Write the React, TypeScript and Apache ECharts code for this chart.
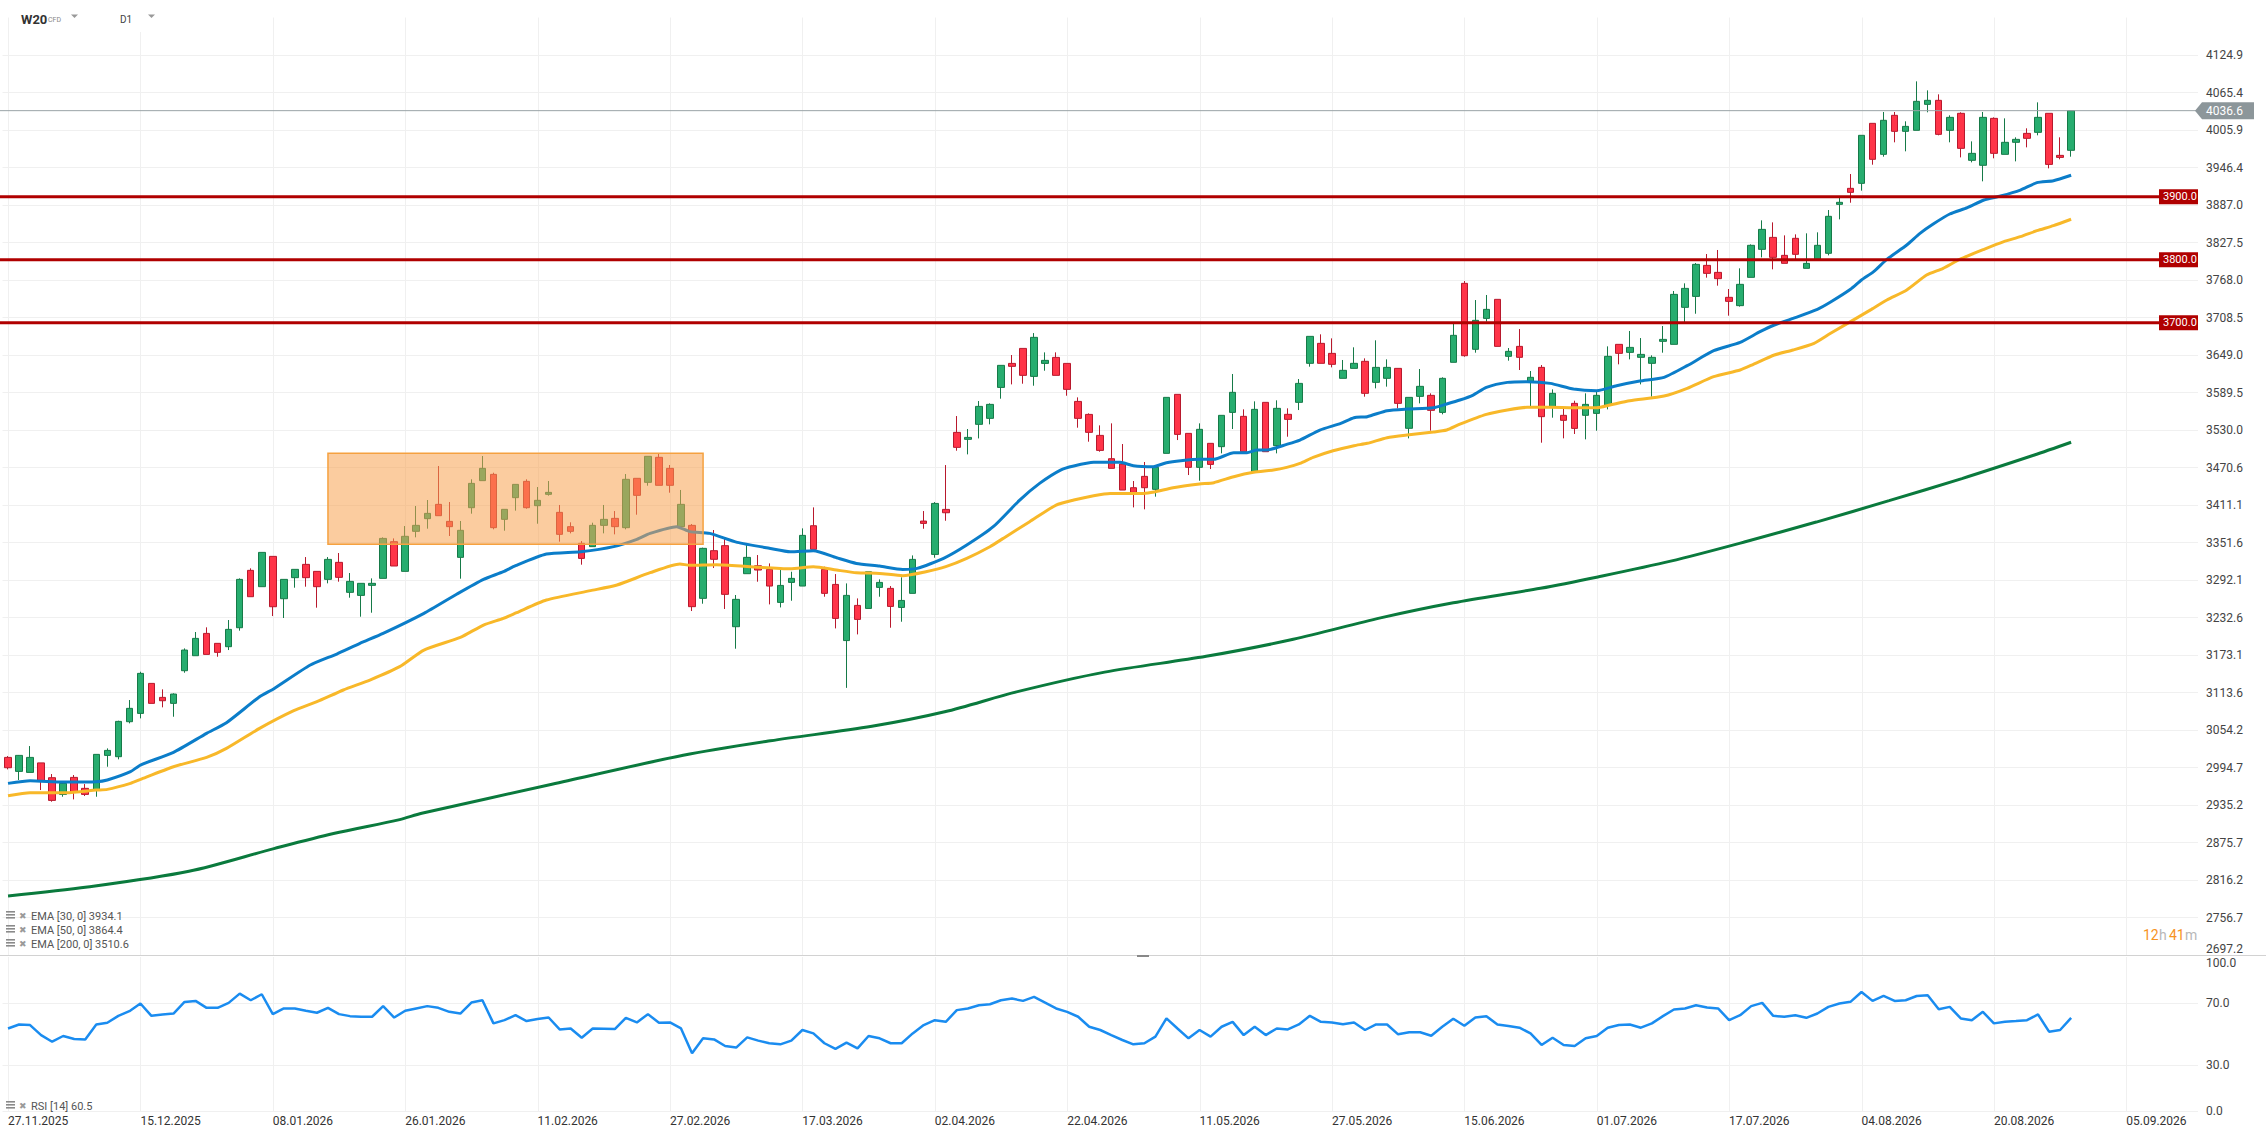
import React, { useEffect, useRef } from "react";
import * as echarts from "echarts";

// ---------- layout ----------
const PAGE_W = 2266;
const PAGE_H = 1139;
const PLOT_LEFT = 2.5;
const PLOT_RIGHT = 2198;
const MAIN_TOP = 17.5;
const MAIN_BOTTOM = 955;
const RSI_TOP = 957;
const RSI_BOTTOM = 1111;
const FONT = 'Roboto, "Noto Sans", "DejaVu Sans", sans-serif';

// ---------- axes ----------
const BASE = 2697.24; // lowest price tick
const STEP = 59.486; // price tick step
const STEPS = 25;
const SLOT_COUNT = 199; // candle slots on the time axis
const TICK_EVERY = 12;
const SLOTS = Array.from({ length: SLOT_COUNT }, (_, i) => String(i));
const DATE_TICKS = [
  "27.11.2025", "15.12.2025", "08.01.2026", "26.01.2026", "11.02.2026", "27.02.2026",
  "17.03.2026", "02.04.2026", "22.04.2026", "11.05.2026", "27.05.2026", "15.06.2026",
  "01.07.2026", "17.07.2026", "04.08.2026", "20.08.2026", "05.09.2026",
];
const RSI_TICKS = [0, 30, 70, 100];
const RSI_GRID = [70, 30, 0];

// ---------- candles ----------
const OPEN = [3010.7,2988.5,2986.9,3002.0,2978.5,2952.0,2979.0,2961.6,2958.9,3013.9,
3011.8,3067.3,3080.5,3128.1,3105.9,3096.4,3148.2,3172.0,3207.4,3191.6,
3186.3,3216.4,3307.4,3281.5,3329.6,3262.4,3295.8,3316.9,3305.8,3293.1,
3320.1,3272.5,3267.7,3283.6,3294.7,3352.9,3305.8,3369.3,3389.4,3412.1,
3385.1,3328.0,3406.8,3449.7,3459.7,3388.3,3422.7,3448.6,3410.0,3428.0,
3399.4,3376.7,3350.2,3345.0,3378.8,3389.9,3375.1,3453.4,3447.0,3486.7,
3469.2,3376.7,3378.8,3263.0,3338.6,3346.6,3218.0,3302.1,3314.7,3308.9,
3256.6,3288.3,3282.5,3378.2,3308.9,3285.1,3196.0,3251.8,3247.0,3280.4,
3278.8,3248.6,3270.9,3385.6,3332.7,3404.1,3526.3,3515.2,3539.0,3548.5,
3597.6,3635.7,3659.5,3615.1,3635.7,3645.2,3635.7,3575.4,3554.8,3521.5,
3484.5,3476.1,3438.5,3456.5,3435.9,3493.0,3586.6,3524.7,3470.8,3508.9,
3503.6,3558.0,3551.7,3463.9,3573.9,3505.2,3554.9,3573.9,3635.8,3667.5,
3651.6,3612.0,3627.8,3639.0,3605.6,3612.0,3627.8,3532.7,3583.4,3585.0,
3558.0,3637.4,3762.7,3658.0,3707.1,3737.3,3646.9,3662.7,3607.2,3629.4,
3567.0,3553.3,3572.3,3553.3,3556.4,3569.1,3665.9,3653.2,3645.3,3635.8,
3670.7,3665.9,3724.6,3742.0,3791.2,3780.1,3740.5,3727.3,3772.2,3816.6,
3835.6,3807.1,3834.1,3786.5,3800.7,3810.3,3888.0,3913.4,3921.3,4016.5,
3967.3,4029.2,4003.8,4005.4,4046.6,4053.0,4005.4,4032.4,3957.8,3949.9,
4024.4,3967.3,3986.4,4000.6,4002.2,4032.4,3965.7,3973.7];

const CLOSE = [2994.3,3013.9,3010.7,2973.2,2942.5,2969.5,2956.2,2952.0,3015.5,3021.8,
3067.8,3088.5,3144.0,3096.4,3100.6,3111.2,3181.0,3199.5,3174.1,3177.3,
3213.8,3293.1,3265.6,3335.9,3249.7,3293.1,3309.0,3295.8,3281.5,3324.8,
3296.3,3289.9,3286.8,3286.8,3358.1,3314.3,3361.4,3378.8,3397.8,3394.1,
3376.7,3370.9,3445.4,3469.2,3375.1,3404.2,3443.8,3406.8,3418.5,3431.1,
3364.5,3369.3,3326.4,3378.8,3388.3,3376.7,3451.8,3426.4,3488.3,3442.3,
3442.3,3412.1,3249.8,3342.3,3324.9,3269.3,3261.4,3328.0,3307.9,3282.5,
3283.5,3294.7,3362.9,3340.7,3270.9,3231.2,3267.7,3229.6,3305.2,3288.3,
3250.2,3259.7,3324.8,3381.9,3413.6,3398.8,3502.5,3518.3,3567.5,3570.7,
3632.6,3631.0,3616.7,3677.0,3640.5,3616.7,3594.5,3548.5,3526.3,3497.7,
3469.2,3434.8,3431.1,3438.5,3470.8,3581.8,3523.1,3470.8,3531.1,3475.5,
3553.3,3589.8,3495.6,3562.8,3495.6,3564.4,3546.9,3604.0,3678.6,3635.8,
3634.2,3624.7,3635.8,3588.2,3629.4,3629.4,3572.3,3581.8,3599.3,3561.2,
3612.0,3680.2,3647.9,3704.0,3721.4,3662.7,3654.8,3645.3,3613.6,3551.2,
3588.2,3545.4,3532.6,3570.7,3585.0,3646.9,3651.6,3661.1,3650.0,3645.3,
3673.8,3745.2,3754.7,3792.8,3778.5,3770.1,3734.1,3761.1,3823.0,3848.3,
3803.9,3794.4,3808.7,3794.4,3823.0,3869.0,3891.2,3907.0,3997.5,3959.4,
4021.3,4003.8,4011.7,4051.4,4053.0,3999.0,4026.0,3976.8,3968.9,4026.0,
3968.9,3986.4,3991.1,3992.7,4026.0,3951.4,3962.5,4036.6];

const LOW = [2991.7,2974.8,2986.9,2958.9,2940.4,2948.3,2944.1,2949.4,2948.3,2995.9,
3007.6,3064.7,3072.6,3096.4,3090.1,3075.2,3145.0,3172.0,3174.1,3170.4,
3181.0,3211.7,3265.6,3281.5,3234.9,3231.8,3279.9,3281.5,3248.2,3286.8,
3289.4,3264.0,3233.9,3240.2,3294.7,3314.3,3305.8,3359.8,3373.5,3394.1,
3361.9,3294.2,3397.3,3449.7,3372.5,3370.3,3402.1,3405.2,3381.4,3425.9,
3352.9,3366.1,3316.4,3345.0,3366.1,3364.5,3372.5,3395.7,3441.7,3442.3,
3430.6,3376.7,3242.9,3254.5,3311.1,3246.1,3183.1,3302.1,3289.4,3253.4,
3248.6,3259.2,3282.5,3340.7,3265.6,3215.3,3121.0,3205.8,3247.0,3265.6,
3216.4,3225.9,3270.9,3373.4,3327.4,3386.1,3497.2,3491.4,3516.7,3539.0,
3579.7,3602.4,3603.5,3600.3,3624.1,3616.7,3584.4,3533.7,3511.5,3495.6,
3469.2,3434.8,3407.3,3404.2,3424.3,3493.0,3514.1,3458.6,3449.6,3468.1,
3493.0,3531.6,3495.6,3463.9,3495.6,3493.0,3519.4,3561.7,3630.5,3635.8,
3629.4,3612.0,3627.8,3582.9,3596.1,3598.8,3564.4,3516.8,3572.3,3529.0,
3554.9,3637.4,3646.3,3652.7,3701.9,3662.7,3640.0,3625.2,3568.1,3509.9,
3549.6,3516.8,3523.7,3515.2,3528.9,3562.8,3634.2,3642.1,3602.4,3582.9,
3652.7,3665.9,3700.3,3714.5,3771.7,3759.0,3711.4,3725.7,3772.2,3803.9,
3784.9,3794.4,3800.7,3786.5,3800.7,3807.1,3864.2,3890.6,3909.7,3950.9,
3963.6,3986.4,3972.1,4005.4,4034.0,3997.5,3986.4,3962.5,3954.6,3924.5,
3961.0,3967.3,3956.2,3978.4,3997.5,3945.1,3959.4,3963.6];

const HIGH = [3012.8,3014.5,3028.7,3002.0,2984.3,2970.5,2982.7,2968.4,3015.5,3025.0,
3068.9,3101.7,3146.6,3128.1,3118.6,3112.3,3183.6,3209.6,3217.0,3191.6,
3228.6,3294.7,3310.6,3335.9,3329.6,3293.1,3309.0,3328.5,3305.8,3328.5,
3334.9,3303.2,3286.8,3294.7,3359.7,3358.1,3377.7,3409.5,3419.0,3472.9,
3415.8,3385.7,3451.8,3488.8,3462.3,3404.2,3443.8,3451.8,3439.6,3449.1,
3411.1,3383.6,3353.9,3383.0,3411.1,3401.5,3460.2,3453.4,3488.3,3493.0,
3474.5,3434.9,3380.9,3343.4,3371.4,3358.1,3268.3,3349.0,3331.7,3318.4,
3307.9,3305.2,3374.0,3407.3,3313.2,3301.5,3286.7,3262.9,3305.2,3293.1,
3282.5,3296.3,3331.1,3401.5,3415.7,3474.4,3552.2,3531.6,3576.0,3572.3,
3632.6,3649.0,3659.5,3683.8,3653.2,3653.2,3635.7,3581.8,3556.4,3537.4,
3540.6,3507.8,3449.1,3479.3,3470.8,3581.8,3586.6,3524.7,3540.6,3508.9,
3553.3,3618.9,3562.8,3575.5,3573.9,3577.1,3564.4,3610.9,3678.6,3681.8,
3675.4,3641.1,3661.2,3643.7,3672.3,3642.1,3627.8,3581.8,3626.8,3588.2,
3613.6,3699.2,3766.4,3736.2,3744.2,3737.3,3660.1,3690.2,3623.6,3633.1,
3594.5,3564.4,3576.5,3588.2,3590.8,3662.7,3665.9,3687.1,3675.9,3648.5,
3695.0,3750.5,3762.7,3794.9,3809.2,3815.6,3753.7,3786.5,3824.5,3862.6,
3859.4,3838.8,3840.4,3842.0,3843.6,3879.0,3900.2,3936.1,3997.5,4016.5,
4034.5,4034.5,4019.7,4083.1,4068.8,4062.5,4029.2,4034.0,3987.9,4034.5,
4026.0,4024.4,3994.3,4008.6,4049.8,4032.4,3994.3,4037.1];

// ---------- indicators: [slot index, value] ----------
const EMA30 = [[0,2969.5],[2,2973.7],[5,2971.6],[8,2972.1],[9,2974.8],[11.1,2988.0],[12,2998.6],[15,3018.7],
[18,3048.8],[19.8,3065.7],[22.8,3106.9],[24.1,3119.7],[27.4,3157.2],[29.8,3174.7],[31.9,3191.6],[34,3207.4],
[37.7,3239.2],[40.7,3269.9],[43.1,3293.1],[44.9,3305.3],[46,3314.8],[48.8,3333.3],[51.9,3337.0],[54.9,3345.0],
[57,3356.6],[58.2,3366.1],[60.6,3376.7],[61.8,3368.8],[63.6,3366.1],[66.1,3351.8],[69.1,3342.2],[70.9,3337.0],
[73,3338.6],[75.1,3327.4],[76.9,3318.4],[79,3314.2],[81.1,3308.9],[82.4,3310.5],[84.8,3326.4],[86.9,3347.5],
[89.3,3376.6],[91.7,3418.9],[93.5,3445.4],[95.4,3466.5],[96.6,3472.9],[98.4,3478.7],[100.8,3478.7],[102,3473.4],
[103.8,3471.8],[105,3478.2],[106.3,3481.4],[108.1,3483.5],[109.3,3483.5],[111.1,3494.1],[112.3,3494.1],[113.2,3498.3],
[114.1,3498.3],[115.9,3507.3],[117.1,3514.1],[118.9,3530.0],[120.8,3540.6],[122,3549.6],[123.2,3551.2],[125,3560.7],
[126.8,3563.3],[129.2,3565.4],[130.4,3571.3],[131.6,3577.6],[132.8,3585.5],[134,3597.7],[135.9,3605.6],[137.7,3606.7],
[139.8,3604.0],[141.9,3595.0],[144,3592.4],[145.8,3600.3],[147.9,3607.7],[150.1,3613.6],[152.2,3632.1],[154.6,3655.8],
[157,3669.1],[158.8,3686.0],[160.1,3696.6],[161.8,3707.1],[164,3721.4],[165.2,3733.0],[167,3753.2],[168,3768.0],
[169.1,3781.2],[170.3,3800.7],[172.1,3823.5],[173.3,3842.0],[174.5,3856.8],[176,3872.7],[177.6,3882.7],[179.1,3894.9],
[180.6,3901.2],[182.4,3910.7],[183.9,3922.4],[185.4,3925.5],[187,3934.1]];

const EMA50 = [[0,2949.9],[2,2954.7],[5.3,2954.7],[8,2958.9],[9,2960.0],[11.1,2969.5],[12,2975.8],[15,2995.9],
[18,3010.7],[19.8,3025.0],[22.8,3056.7],[25.9,3084.8],[28,3099.0],[30.4,3117.6],[32.8,3133.4],[35.5,3154.6],
[37.7,3181.0],[41,3201.1],[43.1,3220.7],[44.9,3231.3],[46.1,3240.3],[48.8,3260.3],[52.8,3275.2],[55.2,3284.2],
[58.2,3303.7],[60.9,3317.5],[61.8,3315.4],[64.2,3316.4],[67.3,3313.2],[70.9,3310.0],[73,3313.2],[75.1,3307.9],
[76.9,3303.6],[79,3302.6],[81.1,3298.9],[83.2,3305.2],[85,3313.2],[86.9,3326.4],[89,3344.9],[90.2,3358.1],
[92.6,3384.6],[95,3411.0],[96.6,3418.9],[98.4,3425.8],[99.9,3429.5],[102.9,3429.5],[103.9,3431.7],[105.6,3438.5],
[108,3444.4],[109.3,3446.5],[111.1,3456.0],[112.9,3462.9],[114.7,3466.6],[115.9,3470.8],[117.1,3477.1],[118.3,3486.7],
[120.1,3497.2],[122,3505.2],[123.2,3508.9],[125,3517.8],[126.8,3522.1],[129.2,3526.8],[130.4,3530.0],[131.6,3539.3],
[134,3554.8],[135.9,3561.7],[137.7,3566.0],[139.8,3566.0],[141.9,3565.4],[144,3565.4],[145.2,3569.7],[147,3576.5],
[150.1,3583.9],[152.2,3596.1],[154.6,3614.6],[157,3625.2],[158.2,3634.2],[160.1,3649.0],[161.8,3656.9],[163.7,3667.5],
[165.2,3683.4],[168.9,3721.4],[170.3,3736.3],[172.1,3752.1],[173.9,3775.9],[175.4,3786.5],[176.9,3800.7],[179.1,3816.6],
[180.9,3828.8],[182.4,3836.7],[183.9,3846.2],[185.4,3854.2],[187,3864.4]];

const EMA200 = [[0,2791],[7.2,2805],[16.4,2830],[24.1,2866],[29.5,2890],[35.5,2912],[37.5,2922],[49.3,2968],
[61.2,3014],[69.1,3037],[78.3,3060],[84.9,3083],[91.5,3115],[99.4,3146],[108.6,3171],[116.5,3198],
[124.4,3232],[131,3256],[138.9,3279],[144.1,3297],[150.7,3322],[157.3,3352],[163.9,3384],[170.5,3418],
[177.1,3453],[183.6,3490],[187,3510.6]];

const RSI14 = [53.6,56.2,55.8,49.3,45.0,48.7,46.8,46.5,56.2,57.3,
61.8,64.8,69.8,61.8,62.7,63.3,70.8,71.5,67.0,67.0,
70.2,76.2,71.9,75.8,62.9,66.6,66.6,65.1,63.8,67.0,
62.9,61.6,61.2,61.2,68.1,60.7,65.1,66.6,68.1,67.0,
64.4,63.3,70.4,71.9,56.9,59.0,62.2,58.4,59.7,60.7,
53.0,53.6,47.6,53.6,53.4,53.2,60.5,57.5,62.9,57.3,
57.5,53.6,37.5,47.2,46.5,42.2,41.2,47.8,45.7,44.0,
43.3,45.7,52.6,50.4,44.0,40.3,44.4,40.7,48.7,47.2,
44.0,44.0,50.4,55.8,59.0,57.9,65.5,66.6,68.7,69.3,
71.9,73.0,71.5,74.1,70.4,66.6,64.4,61.2,54.7,52.6,
49.3,46.1,43.3,44.0,48.3,60.1,53.6,47.2,52.6,48.3,
54.7,57.9,49.3,54.7,49.3,53.6,53.0,56.2,61.8,57.9,
57.5,56.4,57.5,52.6,56.2,56.2,49.8,51.1,51.1,48.9,
54.7,59.9,55.4,60.7,61.6,56.2,55.2,54.1,50.4,42.9,
47.6,42.9,42.2,47.2,48.7,54.1,55.8,56.2,54.1,56.9,
61.6,65.9,66.6,68.7,67.2,66.6,59.0,62.2,68.1,70.2,
61.8,61.2,62.2,60.5,63.3,67.6,69.8,70.9,77.3,71.5,
74.7,71.5,71.9,74.7,75.2,66.1,67.6,60.1,59.0,64.4,
56.9,57.9,58.4,59.0,62.7,51.5,52.6,60.5];

// ---------- annotations ----------
const LEVELS = [3900, 3800, 3700];
const LAST_PRICE = 4036.6;
const ZONE_SLOTS = [29, 63];
const ZONE_PRICES = [3493.0, 3348.7];

// ---------- colours ----------
const UP_FILL = "#27ad6f";
const UP_EDGE = "#167a48";
const DOWN_FILL = "#ff3448";
const DOWN_EDGE = "#b8192d";
const EMA30_COLOR = "#0b7dc9";
const EMA50_COLOR = "#f8b829";
const EMA200_COLOR = "#0a7a3d";
const RSI_COLOR = "#1a8cf0";
const LEVEL_COLOR = "#b00000";
const GRID_COLOR = "#f0f0f0";

const last = (arr: number[][]) => arr[arr.length - 1][1];

function buildOption(): any {
  const candleData = OPEN.map((o, i) => [o - BASE, CLOSE[i] - BASE, LOW[i] - BASE, HIGH[i] - BASE]);
  const shift = (pts: number[][]) => pts.map(([x, v]) => [x, v - BASE]);
  const tickPoints = DATE_TICKS.map((_, k) => [k * TICK_EVERY, 0]);

  const vGrid = (params: any, api: any) => {
    const cs = params.coordSys;
    const x = Math.round(api.coord([api.value(0), api.value(1)])[0]) + 0.5;
    return {
      type: "line",
      silent: true,
      shape: { x1: x, y1: cs.y, x2: x, y2: cs.y + cs.height },
      style: { stroke: GRID_COLOR, lineWidth: 1 },
    };
  };

  const legendRow = (y: number, text: string) => [
    { type: "rect", z: 100, shape: { x: 6, y: y - 5, width: 9, height: 1.6 }, style: { fill: "#8a8a8a" } },
    { type: "rect", z: 100, shape: { x: 6, y: y - 2, width: 9, height: 1.6 }, style: { fill: "#8a8a8a" } },
    { type: "rect", z: 100, shape: { x: 6, y: y + 1, width: 9, height: 1.6 }, style: { fill: "#8a8a8a" } },
    { type: "text", z: 100, x: 19, y: y, style: { text: "\u2716", fill: "#9a9a9a", fontSize: 9, verticalAlign: "middle", fontFamily: '"DejaVu Sans", sans-serif' } },
    { type: "text", z: 100, x: 31, y: y, style: { text, fill: "#555", fontSize: 11, fontFamily: FONT, verticalAlign: "middle" } },
  ];

  return {
    animation: false,
    textStyle: { fontFamily: FONT },
    grid: [
      { left: PLOT_LEFT, top: MAIN_TOP, width: PLOT_RIGHT - PLOT_LEFT, height: MAIN_BOTTOM - MAIN_TOP, containLabel: false, outerBoundsMode: "none" },
      { left: PLOT_LEFT, top: RSI_TOP, width: PLOT_RIGHT - PLOT_LEFT, height: RSI_BOTTOM - RSI_TOP, containLabel: false, outerBoundsMode: "none" },
    ],
    xAxis: [
      { type: "category", gridIndex: 0, data: SLOTS, boundaryGap: true, show: false },
      { type: "value", gridIndex: 0, min: -0.5, max: SLOT_COUNT - 0.5, show: false },
      { type: "value", gridIndex: 1, min: -0.5, max: SLOT_COUNT - 0.5, show: false },
    ],
    yAxis: [
      {
        type: "value",
        gridIndex: 0,
        position: "right",
        min: 0,
        max: STEP * STEPS,
        interval: STEP,
        axisLine: { show: false },
        axisTick: { show: false },
        splitLine: { show: true, showMaxLine: false, lineStyle: { color: GRID_COLOR, width: 1 } },
        axisLabel: {
          margin: 8,
          color: "#444",
          fontSize: 12,
          fontFamily: FONT,
          showMaxLabel: false,
          verticalAlignMinLabel: "bottom",
          formatter: (v: number) => (v + BASE).toFixed(1),
        },
      },
      {
        type: "value",
        gridIndex: 1,
        position: "right",
        min: 0,
        max: 100,
        interval: 10,
        axisLine: { show: false },
        axisTick: { show: false },
        splitLine: { show: false },
        axisLabel: {
          margin: 8,
          color: "#444",
          fontSize: 12,
          fontFamily: FONT,
          verticalAlignMaxLabel: "top",
          formatter: (v: number) => (RSI_TICKS.indexOf(Math.round(v)) >= 0 && Math.abs(v - Math.round(v)) < 1e-6 ? Math.round(v).toFixed(1) : ""),
        },
      },
    ],
    series: [
      {
        name: "vgrid-main",
        type: "custom",
        xAxisIndex: 1,
        yAxisIndex: 0,
        z: 0,
        silent: true,
        clip: false,
        encode: { x: 0, y: 1 },
        data: tickPoints,
        renderItem: vGrid,
      },
      {
        name: "W20",
        type: "candlestick",
        xAxisIndex: 0,
        yAxisIndex: 0,
        z: 3,
        barWidth: 7,
        data: candleData,
        itemStyle: {
          color: UP_FILL,
          color0: DOWN_FILL,
          borderColor: UP_EDGE,
          borderColor0: DOWN_EDGE,
          borderWidth: 1,
        },
      },
      {
        name: "EMA200",
        type: "line",
        xAxisIndex: 1,
        yAxisIndex: 0,
        z: 4,
        showSymbol: false,
        symbol: "none",
        smooth: 0.3,
        data: shift(EMA200),
        lineStyle: { color: EMA200_COLOR, width: 3 },
      },
      {
        name: "EMA50",
        type: "line",
        xAxisIndex: 1,
        yAxisIndex: 0,
        z: 4,
        showSymbol: false,
        symbol: "none",
        smooth: 0.2,
        data: shift(EMA50),
        lineStyle: { color: EMA50_COLOR, width: 3 },
      },
      {
        name: "EMA30",
        type: "line",
        xAxisIndex: 1,
        yAxisIndex: 0,
        z: 4,
        showSymbol: false,
        symbol: "none",
        smooth: 0.2,
        data: shift(EMA30),
        lineStyle: { color: EMA30_COLOR, width: 3 },
      },
      {
        name: "zone",
        type: "custom",
        xAxisIndex: 1,
        yAxisIndex: 0,
        z: 6,
        silent: true,
        clip: false,
        encode: { x: [0, 2], y: [1, 3] },
        data: [[ZONE_SLOTS[0], ZONE_PRICES[0] - BASE, ZONE_SLOTS[1], ZONE_PRICES[1] - BASE]],
        renderItem: (params: any, api: any) => {
          const p0 = api.coord([api.value(0), api.value(1)]);
          const p1 = api.coord([api.value(2), api.value(3)]);
          return {
            type: "rect",
            shape: { x: p0[0], y: p0[1], width: p1[0] - p0[0], height: p1[1] - p0[1] },
            style: { fill: "rgba(247,163,80,0.55)", stroke: "#f5a140", lineWidth: 1.5 },
          };
        },
      },
      {
        name: "levels",
        type: "custom",
        xAxisIndex: 1,
        yAxisIndex: 0,
        z: 7,
        silent: true,
        clip: false,
        encode: { x: 0, y: 1 },
        data: LEVELS.map((v) => [0, v - BASE]),
        renderItem: (params: any, api: any) => {
          const cs = params.coordSys;
          const value = api.value(1);
          const y = api.coord([0, value])[1];
          const right = cs.x + cs.width;
          return {
            type: "group",
            children: [
              { type: "line", shape: { x1: 0, y1: y, x2: right, y2: y }, style: { stroke: LEVEL_COLOR, lineWidth: 3 } },
              { type: "rect", shape: { x: right - 39, y: y - 7.5, width: 39, height: 15 }, style: { fill: LEVEL_COLOR } },
              {
                type: "text",
                x: right - 35,
                y: y,
                style: { text: (value + BASE).toFixed(1), fill: "#fff", fontSize: 11, fontFamily: FONT, verticalAlign: "middle", align: "left" },
              },
            ],
          };
        },
      },
      {
        name: "last",
        type: "custom",
        xAxisIndex: 1,
        yAxisIndex: 0,
        z: 8,
        silent: true,
        clip: false,
        encode: { x: 0, y: 1 },
        data: [[OPEN.length - 1, LAST_PRICE - BASE]],
        renderItem: (params: any, api: any) => {
          const cs = params.coordSys;
          const value = api.value(1);
          const y = api.coord([api.value(0), value])[1];
          const right = cs.x + cs.width;
          return {
            type: "group",
            children: [
              { type: "line", shape: { x1: 0, y1: y, x2: right, y2: y }, style: { stroke: "#9aa3a7", lineWidth: 1 } },
              {
                type: "polygon",
                shape: { points: [[right - 3, y], [right + 4, y - 8.5], [right + 56, y - 8.5], [right + 56, y + 8.5], [right + 4, y + 8.5]] },
                style: { fill: "#8c969a" },
              },
              {
                type: "text",
                x: right + 8,
                y: y,
                style: { text: (value + BASE).toFixed(1), fill: "#fff", fontSize: 12, fontFamily: FONT, verticalAlign: "middle", align: "left" },
              },
            ],
          };
        },
      },
      {
        name: "vgrid-rsi",
        type: "custom",
        xAxisIndex: 2,
        yAxisIndex: 1,
        z: 0,
        silent: true,
        clip: false,
        encode: { x: 0, y: 1 },
        data: tickPoints,
        renderItem: vGrid,
      },
      {
        name: "hgrid-rsi",
        type: "custom",
        xAxisIndex: 2,
        yAxisIndex: 1,
        z: 1,
        silent: true,
        clip: false,
        encode: { x: 0, y: 1 },
        data: RSI_GRID.map((v) => [0, v]),
        renderItem: (params: any, api: any) => {
          const cs = params.coordSys;
          const y = Math.round(api.coord([0, api.value(1)])[1]) + 0.5;
          return { type: "line", shape: { x1: cs.x, y1: y, x2: cs.x + cs.width, y2: y }, style: { stroke: GRID_COLOR, lineWidth: 1 } };
        },
      },
      {
        name: "RSI",
        type: "line",
        xAxisIndex: 2,
        yAxisIndex: 1,
        z: 3,
        showSymbol: false,
        symbol: "none",
        data: RSI14.map((v, i) => [i, v]),
        lineStyle: { color: RSI_COLOR, width: 2.5 },
      },
      {
        name: "dates",
        type: "custom",
        xAxisIndex: 2,
        yAxisIndex: 1,
        z: 5,
        silent: true,
        clip: false,
        encode: { x: 0, y: 1 },
        data: tickPoints,
        renderItem: (params: any, api: any) => {
          const cs = params.coordSys;
          const x = api.coord([api.value(0), 0])[0];
          return {
            type: "text",
            x: x,
            y: cs.y + cs.height + 4,
            style: { text: DATE_TICKS[params.dataIndex], fill: "#333", fontSize: 12, fontFamily: FONT, align: "left", verticalAlign: "top" },
          };
        },
      },
    ],
    graphic: [
      // header
      { type: "rect", z: 90, shape: { x: 100, y: 8, width: 70, height: 24 }, style: { fill: "#fff" } },
      { type: "text", z: 100, x: 21, y: 19, style: { text: "W20", fill: "#333", fontSize: 13, fontWeight: "bold", fontFamily: FONT, verticalAlign: "middle" } },
      { type: "text", z: 100, x: 48, y: 20, style: { text: "CFD", fill: "#888", fontSize: 7, fontFamily: FONT, verticalAlign: "middle" } },
      { type: "polygon", z: 100, shape: { points: [[71, 14.5], [78, 14.5], [74.5, 18]] }, style: { fill: "#999" } },
      { type: "text", z: 100, x: 120, y: 19.5, style: { text: "D1", fill: "#444", fontSize: 10, fontFamily: FONT, verticalAlign: "middle" } },
      { type: "polygon", z: 100, shape: { points: [[148, 14.5], [155, 14.5], [151.5, 18]] }, style: { fill: "#999" } },
      // legends
      ...legendRow(916, `EMA [30, 0] ${last(EMA30).toFixed(1)}`),
      ...legendRow(930, `EMA [50, 0] ${last(EMA50).toFixed(1)}`),
      ...legendRow(944, `EMA [200, 0] ${last(EMA200).toFixed(1)}`),
      ...legendRow(1106, `RSI [14] ${RSI14[RSI14.length - 1].toFixed(1)}`),
      // countdown
      { type: "text", z: 100, x: 2143, y: 935, style: { text: "12", fill: "#f7931e", fontSize: 14, fontFamily: FONT, verticalAlign: "middle" } },
      { type: "text", z: 100, x: 2159, y: 935, style: { text: "h", fill: "#b8b8b8", fontSize: 14, fontFamily: FONT, verticalAlign: "middle" } },
      { type: "text", z: 100, x: 2169, y: 935, style: { text: "41", fill: "#f7931e", fontSize: 14, fontFamily: FONT, verticalAlign: "middle" } },
      { type: "text", z: 100, x: 2185, y: 935, style: { text: "m", fill: "#b8b8b8", fontSize: 14, fontFamily: FONT, verticalAlign: "middle" } },
      // pane separator and handle
      { type: "line", z: 100, shape: { x1: 0, y1: 955.5, x2: PAGE_W, y2: 955.5 }, style: { stroke: "#d2d2d2", lineWidth: 1 } },
      { type: "rect", z: 101, shape: { x: 1137, y: 955, width: 12, height: 2 }, style: { fill: "#888" } },
    ],
  };
}

export default function App() {
  const ref = useRef<HTMLDivElement>(null);
  useEffect(() => {
    if (!ref.current) return;
    const chart = echarts.init(ref.current, undefined, { renderer: "svg" });
    chart.setOption(buildOption());
    return () => chart.dispose();
  }, []);
  return (
    <div
      ref={ref}
      style={{ position: "fixed", left: 0, top: 0, width: PAGE_W, height: PAGE_H, background: "#fff" }}
    />
  );
}
